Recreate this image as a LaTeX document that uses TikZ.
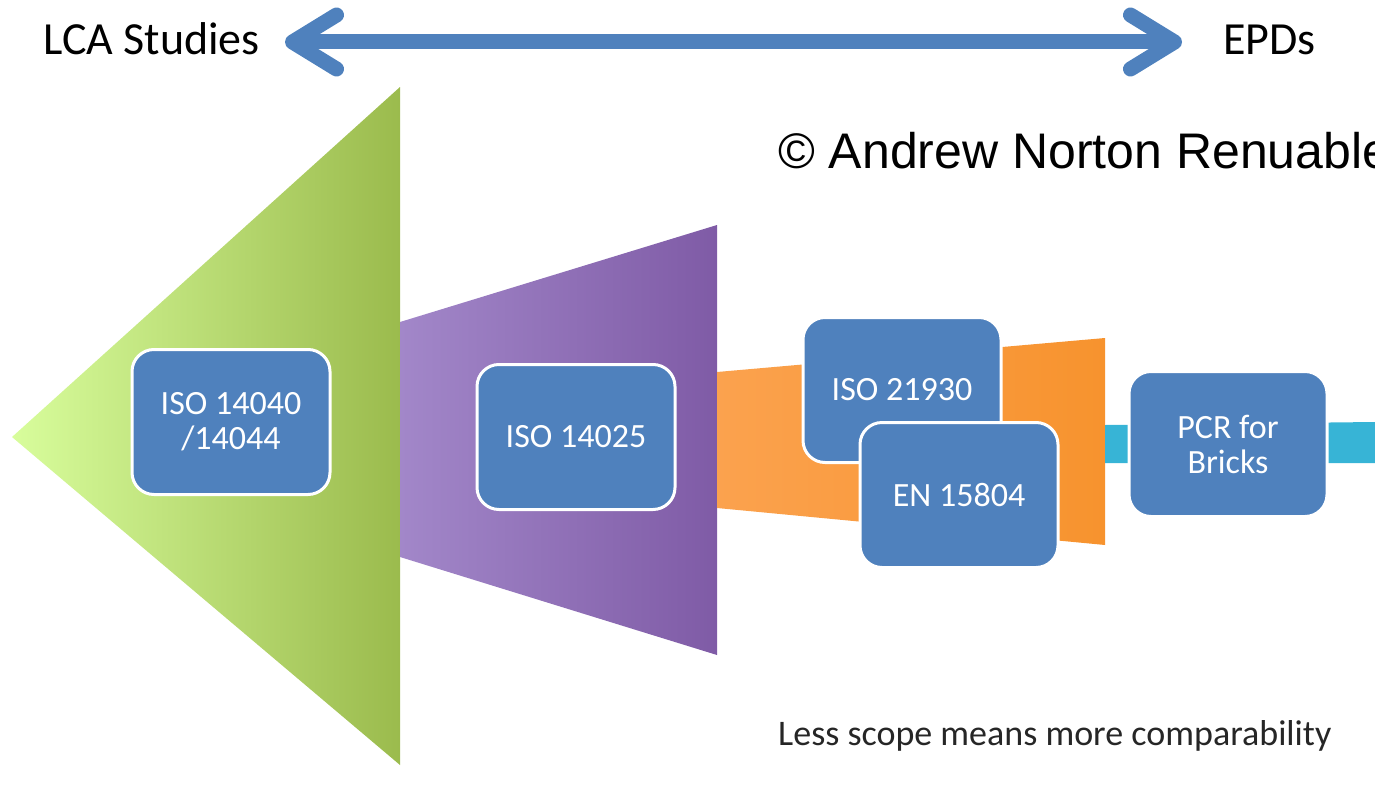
\documentclass[tikz,border=0pt]{standalone}
\usepackage{fontspec}
\setmainfont{Carlito}
\newfontfamily\arialfont{Liberation Sans}
\usetikzlibrary{arrows.meta,positioning}
\definecolor{boxblue}{HTML}{4F81BD}
\definecolor{greenL}{HTML}{D8FD9C}
\definecolor{greenR}{HTML}{9BBB4D}
\definecolor{purpleL}{HTML}{A287C9}
\definecolor{purpleR}{HTML}{7F5BA6}
\definecolor{orangeL}{HTML}{FBA24E}
\definecolor{orangeR}{HTML}{F7932E}
\definecolor{aqua}{HTML}{37B4D6}
\tikzset{
  stdbox/.style={draw=white, line width=3pt, fill=boxblue, rounded corners=22pt,
    minimum width=198pt, minimum height=145pt, text=white, align=center,
    font=\fontsize{34}{35}\selectfont},
  headtext/.style={anchor=base west, inner sep=0pt, font=\fontsize{46}{50}\selectfont},
  barb/.tip={Straight Barb[length=44pt, width=54pt, round]}
}
\begin{document}
\begin{tikzpicture}[x=1pt, y=-1pt]
    \useasboundingbox (0,0) rectangle (1375,792);
    \clip (0,0) rectangle (1375,792);
    % Green triangle
    \shade[left color=greenL, right color=greenR] (12,437) -- (400,87) -- (400,765) -- cycle;
    % Purple trapezoid
    \shade[left color=purpleL, right color=purpleR] (400,322) -- (717,225) -- (717,655) -- (400,557) -- cycle;
    % Orange trapezoid
    \shade[left color=orangeL, right color=orangeR] (717,372) -- (1105,338) -- (1105,545) -- (717,508) -- cycle;
    % Aqua strip
    \fill[aqua] (1105,425) -- (1375,422) -- (1375,463) -- (1105,463) -- cycle;
    % Standards
    \node[stdbox] (iso1404x) at (231,422) {ISO 14040\\/14044};
    \node[stdbox] (iso14025) at (576,437) {ISO 14025};
    \node[stdbox] (iso21930) at (902,390) {ISO 21930};
    \node[stdbox] (en15804) at (959,495) {EN 15804};
    \node[stdbox] (pcr) at (1228,444) {PCR for\\Bricks};
    % Scope arrow
    \node[headtext] (lca) at (43,55) {LCA Studies};
    \node[headtext] (epd) at (1223,55) {EPDs};
    \coordinate (tipL) at (285,42);
    \coordinate (tipR) at (1182,42);
    \draw[boxblue, line width=15pt, barb-barb] (tipL) -- (tipR);
    % Watermark and note
    \node[anchor=base west, inner sep=0pt, font=\arialfont\fontsize{50}{55}\selectfont] (copyright) at (778,168) {© Andrew Norton Renuables};
    \node[anchor=base west, inner sep=0pt, text=black!85, font=\fontsize{36}{40}\selectfont] (scope) at (778,745) {Less scope means more comparability};
\end{tikzpicture}
\end{document}
